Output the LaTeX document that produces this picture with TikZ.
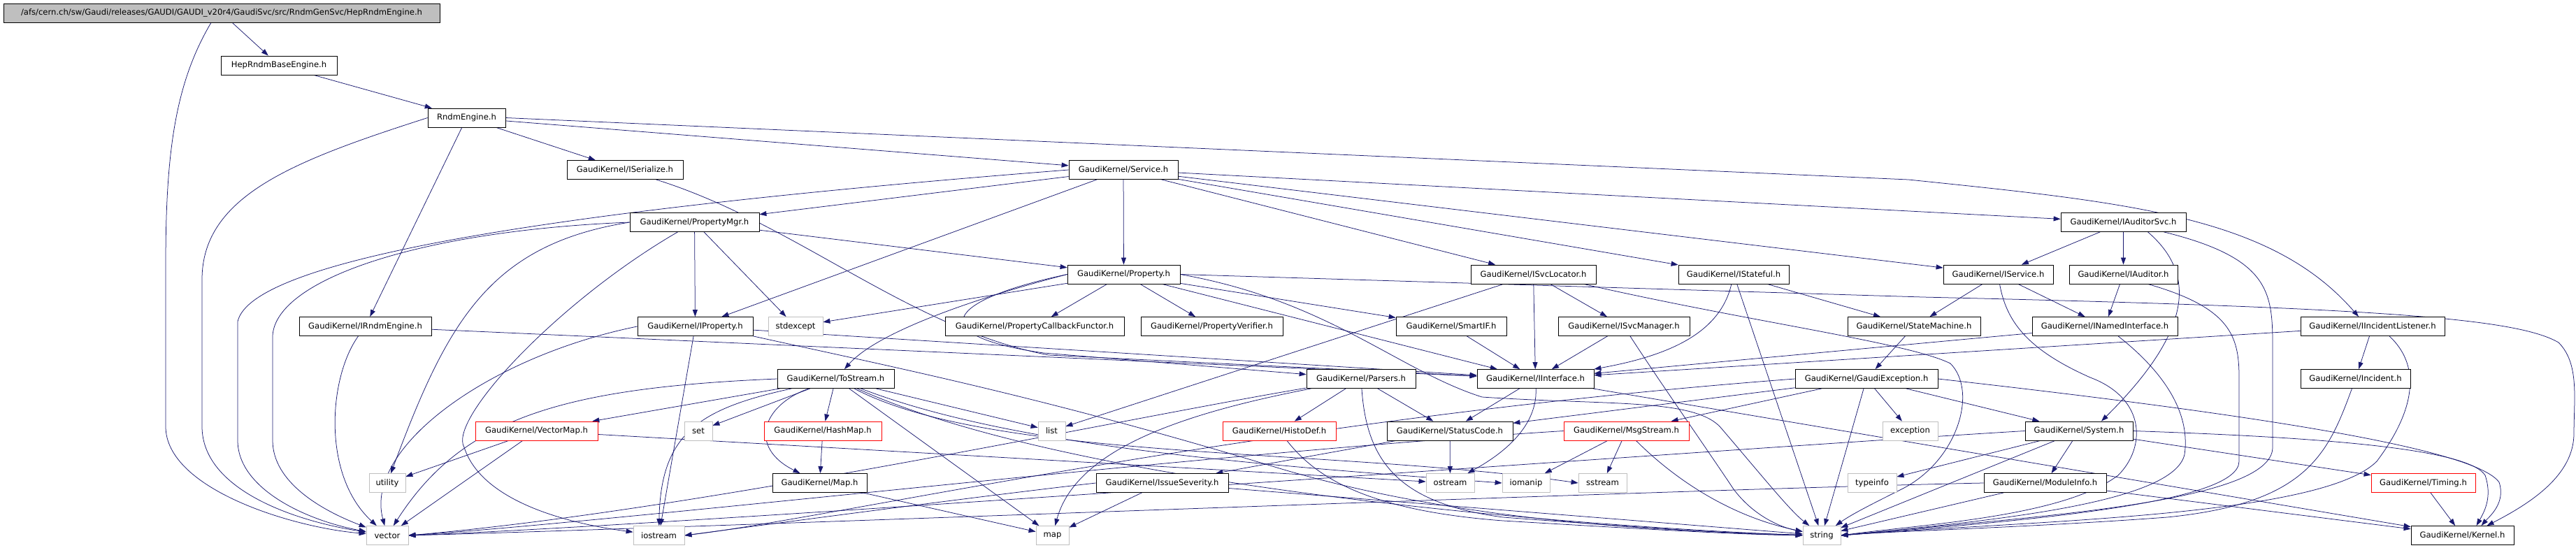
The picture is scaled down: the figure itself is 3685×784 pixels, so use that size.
\documentclass[tikz,border=0pt]{standalone}
\usepackage{fontspec}
\setmainfont{DejaVu Sans}
\usetikzlibrary{arrows.meta}
\definecolor{edgec}{HTML}{191970}
\definecolor{gfill}{HTML}{BFBFBF}
\pgfdeclarelayer{bg}
\pgfsetlayers{bg,main}
\tikzset{
  nd/.style={draw=black, fill=white, line width=0.8pt, minimum height=27pt, inner sep=0pt, font=\fontsize{11.6pt}{13pt}\selectfont},
  gr/.style={nd, draw=gfill},
  rd/.style={nd, draw=red},
  e/.style={draw=edgec, line width=0.75pt, -{Triangle[length=10pt,width=7pt]}},
}
\begin{document}
\begin{tikzpicture}[x=1pt,y=-1pt]
\useasboundingbox (0,0) rectangle (3685,784);
% row 0-2
\node[nd, fill=gfill, minimum width=624pt] (top) at (317,18.5) {/afs/cern.ch/sw/Gaudi/releases/GAUDI/GAUDI\_v20r4/GaudiSvc/src/RndmGenSvc/HepRndmEngine.h};
\node[nd, minimum width=166pt] (hrbe) at (399,93.5) {HepRndmBaseEngine.h};
\node[nd, minimum width=111pt] (re) at (667.5,168.5) {RndmEngine.h};
% row 3
\node[nd, minimum width=166pt] (iser) at (894,243) {GaudiKernel/ISerialize.h};
\node[nd, minimum width=156pt] (svc) at (1607,243) {GaudiKernel/Service.h};
% row 4
\node[nd, minimum width=185pt] (pmgr) at (993.5,318) {GaudiKernel/PropertyMgr.h};
\node[nd, minimum width=179pt] (iasvc) at (3037.5,318) {GaudiKernel/IAuditorSvc.h};
% row 5
\node[nd, minimum width=161pt] (prop) at (1607.5,392.5) {GaudiKernel/Property.h};
\node[nd, minimum width=179pt] (isl) at (2193.5,392.5) {GaudiKernel/ISvcLocator.h};
\node[nd, minimum width=158pt] (istf) at (2480,392.5) {GaudiKernel/IStateful.h};
\node[nd, minimum width=157pt] (isvc) at (2858.5,392.5) {GaudiKernel/IService.h};
\node[nd, minimum width=155pt] (iaud) at (3037.5,392.5) {GaudiKernel/IAuditor.h};
% row 6
\node[nd, minimum width=189pt] (irnd) at (522.5,467) {GaudiKernel/IRndmEngine.h};
\node[nd, minimum width=165pt] (iprop) at (994.5,467) {GaudiKernel/IProperty.h};
\node[gr, minimum width=78pt] (stdexc) at (1138,467) {stdexcept};
\node[nd, minimum width=256pt] (pcf) at (1480,467) {GaudiKernel/PropertyCallbackFunctor.h};
\node[nd, minimum width=203pt] (pver) at (1733.5,467) {GaudiKernel/PropertyVerifier.h};
\node[nd, minimum width=158pt] (smart) at (2076,467) {GaudiKernel/SmartIF.h};
\node[nd, minimum width=188pt] (isvm) at (2323,467) {GaudiKernel/ISvcManager.h};
\node[nd, minimum width=190pt] (stm) at (2738,467) {GaudiKernel/StateMachine.h};
\node[nd, minimum width=208pt] (inamed) at (3011,467) {GaudiKernel/INamedInterface.h};
\node[nd, minimum width=206pt] (iil) at (3394,467) {GaudiKernel/IIncidentListener.h};
% row 7
\node[nd, minimum width=167pt] (tos) at (1195.5,542) {GaudiKernel/ToStream.h};
\node[nd, minimum width=156pt] (pars) at (1947,542) {GaudiKernel/Parsers.h};
\node[nd, minimum width=167pt] (iif) at (2196.5,542) {GaudiKernel/IInterface.h};
\node[nd, minimum width=204pt] (gexc) at (2670,542) {GaudiKernel/GaudiException.h};
\node[nd, minimum width=157pt] (inc) at (3369.5,542) {GaudiKernel/Incident.h};
% row 8
\node[rd, minimum width=175pt] (vmap) at (767.5,616.5) {GaudiKernel/VectorMap.h};
\node[gr, minimum width=40pt] (set) at (999,616.5) {set};
\node[rd, minimum width=168pt] (hmap) at (1177,616.5) {GaudiKernel/HashMap.h};
\node[gr, minimum width=39pt] (list) at (1504.5,616.5) {list};
\node[rd, minimum width=162pt] (hdef) at (1830,616.5) {GaudiKernel/HistoDef.h};
\node[nd, minimum width=180pt] (sc) at (2074,616.5) {GaudiKernel/StatusCode.h};
\node[rd, minimum width=179pt] (msg) at (2326.5,616.5) {GaudiKernel/MsgStream.h};
\node[gr, minimum width=79pt] (exc) at (2732.5,616.5) {exception};
\node[nd, minimum width=154pt] (sys) at (2974,616.5) {GaudiKernel/System.h};
% row 9
\node[gr, minimum width=52pt] (util) at (554,691) {utility};
\node[nd, minimum width=135pt] (maph) at (1172.5,691) {GaudiKernel/Map.h};
\node[nd, minimum width=189pt] (isev) at (1662.5,691) {GaudiKernel/IssueSeverity.h};
\node[gr, minimum width=69pt] (ost) at (2074.5,691) {ostream};
\node[gr, minimum width=68pt] (iom) at (2183,691) {iomanip};
\node[gr, minimum width=69pt] (sst) at (2292.5,691) {sstream};
\node[gr, minimum width=70pt] (tinfo) at (2678,691) {typeinfo};
\node[nd, minimum width=175pt] (modi) at (2925.5,691) {GaudiKernel/ModuleInfo.h};
\node[rd, minimum width=149pt] (timing) at (3466.5,691) {GaudiKernel/Timing.h};
% row 10
\node[gr, minimum width=60pt] (vec) at (554,766) {vector};
\node[gr, minimum width=73pt] (iost) at (942.5,766) {iostream};
\node[gr, minimum width=47pt] (mapstd) at (1505.5,766) {map};
\node[gr, minimum width=54pt] (str) at (2606,766) {string};
\node[nd, minimum width=147pt] (kern) at (3522.5,766) {GaudiKernel/Kernel.h};

\begin{pgfonlayer}{bg}
% top levels
\draw[e] (top) -- (hrbe);
\draw[e] ([xshift=-15pt]top.south) .. controls (250,120) and (237,220) .. (237,380) -- (237,610) .. controls (237,700) and (420,755) .. (vec);
\draw[e] (hrbe) -- (re);
\draw[e] (re) -- (iser);
\draw[e] (re) -- (svc);
\draw[e] (re) -- (irnd);
\draw[e] (re.west) .. controls (420,230) and (289,280) .. (289,400) -- (289,610) .. controls (289,700) and (420,745) .. (vec);
\draw[e] (re.east) -- (2730,257) .. controls (3050,290) and (3250,310) .. ([xshift=-20pt]iil.north);
\draw[e] (iser) .. controls (1140,320) and (1300,470) .. (1500,508) -- (iif);
% Service
\draw[e] (svc) -- (pmgr);
\draw[e] (svc) -- (prop);
\draw[e] (svc) -- (iprop);
\draw[e] (svc) -- (isl);
\draw[e] (svc) -- (istf);
\draw[e] (svc) -- (iasvc);
\draw[e] (svc) -- (isvc);
\draw[e] (svc.west) .. controls (800,300) and (360,370) .. (340,460) -- (340,630) .. controls (340,700) and (440,745) .. (vec);
% PropertyMgr
\draw[e] (pmgr) -- (prop);
\draw[e] (pmgr) -- (iprop);
\draw[e] (pmgr) -- (stdexc);
\draw[e] (pmgr.west) .. controls (600,330) and (395,400) .. (390,480) -- (390,630) .. controls (390,690) and (460,730) .. (vec);
\draw[e] (pmgr.west) .. controls (700,350) and (640,460) .. (util);
\draw[e] (pmgr) .. controls (800,430) and (640,600) .. (664,640) .. controls (690,720) and (820,750) .. (iost);
% IAuditorSvc
\draw[e] (iasvc) -- (isvc);
\draw[e] (iasvc) -- (iaud);
\draw[e] ([xshift=35pt]iasvc.south) .. controls (3140,390) and (3140,470) .. ([xshift=32pt]sys.north);
\draw[e] ([xshift=58pt]iasvc.south) .. controls (3250,370) and (3251,420) .. (3251,500) -- (3251,640) .. controls (3251,720) and (2900,740) .. (str.east);
% Property
\draw[e] (prop) -- (stdexc);
\draw[e] (prop.west) .. controls (1420,420) and (1260,470) .. (tos);
\draw[e] (prop) -- (pcf);
\draw[e] (prop) -- (pver);
\draw[e] (prop) -- (smart);
\draw[e] (prop) -- (iif);
\draw[e] (prop.west) .. controls (1350,430) and (1320,480) .. (1493,505) -- (pars);
\draw[e] (prop.east) .. controls (1900,430) and (2000,530) .. (2120,568) .. controls (2300,580) and (2420,570) .. (2460,610) .. controls (2520,680) and (2560,730) .. (str);
\draw[e] (prop.east) -- (2750,425) .. controls (3400,440) and (3600,455) .. (3660,490) .. controls (3690,520) and (3682,570) .. (3682,620) .. controls (3682,680) and (3620,720) .. ([xshift=35pt]kern.north);
% ISvcLocator, IStateful, IService, IAuditor
\draw[e] (isl) -- (list);
\draw[e] (isl) -- (iif);
\draw[e] (isl) -- (isvm);
\draw[e] ([xshift=72pt]isl.south) .. controls (2500,460) and (2730,490) .. (2790,520) .. controls (2830,560) and (2800,660) .. (2720,700) .. controls (2680,720) and (2650,735) .. (str);
\draw[e] (istf) .. controls (2460,480) and (2380,510) .. (iif.north east);
\draw[e] (istf) -- (stm);
\draw[e] (istf) -- (str);
\draw[e] (isvc) -- (stm);
\draw[e] (isvc) -- (inamed);
\draw[e] ([xshift=2pt]isvc.south) .. controls (2870,460) and (2900,500) .. (2990,540) .. controls (3070,570) and (3070,640) .. (3030,680) .. controls (2950,740) and (2750,750) .. (str.east);
\draw[e] (iaud) -- (inamed);
\draw[e] ([xshift=35pt]iaud.south) .. controls (3190,440) and (3203,480) .. (3203,540) -- (3203,660) .. controls (3203,720) and (2900,745) .. (str.east);
% row 6 sources
\draw[e] (irnd) .. controls (470,540) and (460,680) .. (vec);
\draw[e] (irnd) -- (iif);
\draw[e] (iprop) -- (iif);
\draw[e] (iprop.west) .. controls (700,510) and (520,640) .. (vec);
\draw[e] (iprop) -- (iost);
\draw[e] (iprop.south east) .. controls (1300,530) and (1500,570) .. (1830,670) .. controls (2100,750) and (2400,760) .. (str);
\draw[e] (smart) -- (iif);
\draw[e] (isvm) -- (iif);
\draw[e] (isvm) .. controls (2370,540) and (2440,640) .. (2480,700) .. controls (2510,740) and (2550,755) .. (str);
\draw[e] (stm) -- (gexc);
\draw[e] (inamed) -- (iif);
\draw[e] ([xshift=19pt]inamed.south) .. controls (3080,520) and (3135,580) .. (3125,650) .. controls (3110,720) and (2850,745) .. (str.east);
\draw[e] (iil) -- (iif);
\draw[e] (iil) -- (inc);
\draw[e] ([xshift=24pt]iil.south) .. controls (3460,520) and (3460,580) .. (3400,660) .. controls (3320,740) and (2900,745) .. (str.east);
% ToStream
\draw[e] (tos) -- (set);
\draw[e] (tos) -- (hmap);
\draw[e] (tos) .. controls (1090,580) and (1070,640) .. (maph);
\draw[e] (tos) .. controls (1000,585) and (945,620) .. (iost);
\draw[e] (tos) -- (list);
\draw[e] (tos) -- (mapstd);
\draw[e] (tos) -- (vmap);
\draw[e] (tos.west) .. controls (800,555) and (660,600) .. (vec);
\draw[e] (tos) .. controls (1450,640) and (1800,665) .. (iom.west);
\draw[e] (tos) .. controls (1420,660) and (1900,640) .. (sst.west);
\draw[e] (tos) .. controls (1500,680) and (2100,745) .. (str.west);
% Parsers
\draw[e] (pars) -- (hdef);
\draw[e] (pars) -- (sc);
\draw[e] (pars) .. controls (1955,660) and (2000,720) .. (2150,740) .. controls (2350,755) and (2500,765) .. (str);
\draw[e] (pars) .. controls (1700,590) and (1540,640) .. (mapstd);
\draw[e] (pars) .. controls (1600,600) and (1000,730) .. (vec.east);
% IInterface
\draw[e] (iif) -- (sc);
\draw[e] (iif) .. controls (2200,620) and (2130,660) .. (ost);
\draw[e] (iif) -- (kern);
% GaudiException
\draw[e] (gexc) -- (msg);
\draw[e] (gexc) -- (exc);
\draw[e] (gexc) -- (str);
\draw[e] (gexc) -- (sys);
\draw[e] (gexc) -- (sc);
\draw[e] (gexc.west) .. controls (1800,600) and (1200,740) .. (iost.east);
\draw[e] (gexc.east) .. controls (3200,590) and (3540,640) .. (3575,690) .. controls (3585,720) and (3560,740) .. ([xshift=27pt]kern.north);
% Incident
\draw[e] (inc) .. controls (3330,650) and (3300,720) .. (3100,740) .. controls (2900,755) and (2700,760) .. (str.east);
% row 8 sources
\draw[e] (vmap) -- (util);
\draw[e] (vmap) -- (vec);
\draw[e] (vmap) -- (ost);
\draw[e] (hmap) -- (maph);
\draw[e] (hdef) .. controls (1880,680) and (1950,730) .. (2150,745) .. controls (2400,760) and (2500,765) .. (str);
\draw[e] (sc) -- (ost);
\draw[e] (sc) -- (isev);
\draw[e] (msg) -- (iom);
\draw[e] (msg) -- (sst);
\draw[e] (msg) .. controls (2400,690) and (2480,740) .. (str);
\draw[e] (msg.west) .. controls (1700,650) and (900,745) .. (vec.east);
\draw[e] (sys) -- (modi);
\draw[e] (sys) -- (tinfo);
\draw[e] (sys) -- (str);
\draw[e] (sys) -- (timing);
\draw[e] (sys.west) .. controls (2500,640) and (1000,750) .. (vec.east);
\draw[e] (sys.east) .. controls (3300,625) and (3530,640) .. (3555,680) .. controls (3565,710) and (3555,730) .. ([xshift=20pt]kern.north);
% row 9 sources
\draw[e] (maph) -- (mapstd);
\draw[e] (isev) -- (mapstd);
\draw[e] (isev.west) .. controls (1400,710) and (1100,750) .. (iost.east);
\draw[e] (isev) -- (str);
\draw[e] (modi) -- (kern);
\draw[e] (modi) -- (str);
\draw[e] (modi.west) .. controls (2400,700) and (1000,755) .. (vec.east);
\draw[e] (timing) -- (kern);
\end{pgfonlayer}
\end{tikzpicture}
\end{document}
